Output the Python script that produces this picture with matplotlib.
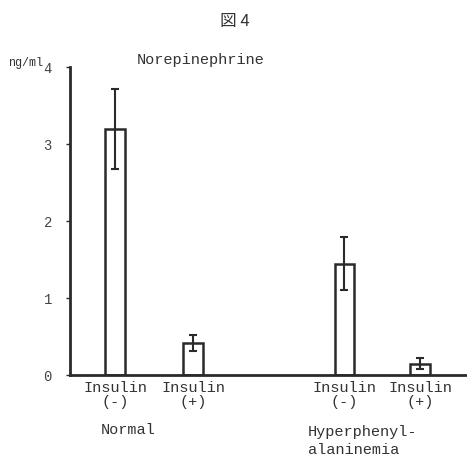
import matplotlib.pyplot as plt

labels = ["Insulin\n(-)", "Insulin\n(+)", "Insulin\n(-)", "Insulin\n(+)"]
means = [3.2, 0.42, 1.45, 0.15]
errs = [0.52, 0.1, 0.35, 0.07]
groups = ["Normal", "Hyperphenyl-\nalaninemia"]
yticks = [0, 1, 2, 3, 4]

xpos = [0, 1, 2.94, 3.91]
ink = '#2a2a2a'
mono = 'Liberation Mono'

fig = plt.figure(figsize=(4.67, 4.57), dpi=100)
ax = fig.add_axes([0.150, 0.179, 0.85, 0.674])

ax.bar(xpos, means, width=0.256, color='white', edgecolor=ink, linewidth=1.8)
ax.errorbar(xpos, means, yerr=errs, fmt='none', ecolor=ink, elinewidth=1.5,
            capsize=3, capthick=1.5)

ax.set_xlim(-0.577, 4.51)
ax.set_ylim(0, 4)
ax.set_yticks(yticks)
ax.set_yticklabels([str(t) for t in yticks], family=mono, fontsize=10, color='#444444')
ax.set_xticks(xpos)
ax.set_xticklabels(labels, family=mono, fontsize=11, color='#333333', linespacing=1.0)
ax.tick_params(axis='x', length=0, pad=4)
ax.tick_params(axis='y', length=3, width=1, color=ink, pad=10)

for side in ['top', 'right']:
    ax.spines[side].set_visible(False)
for side in ['left', 'bottom']:
    ax.spines[side].set_color(ink)
    ax.spines[side].set_linewidth(2)

fig.text(0.503, 0.952, "図 4", family=['Noto Sans CJK JP', 'DejaVu Sans'],
         fontsize=12, ha='center', va='center', color='#333333')
fig.text(0.293, 0.868, "Norepinephrine", family=mono, fontsize=11,
         ha='left', va='center', color='#333333')
fig.text(0.018, 0.862, "ng/ml", family=mono, fontsize=8.5,
         ha='left', va='center', color='#333333')
fig.text(0.275, 0.059, groups[0], family=mono, fontsize=11,
         ha='center', va='center', color='#333333')
fig.text(0.66, 0.035, groups[1], family=mono, fontsize=11,
         ha='left', va='center', color='#333333', linespacing=1.4)

fig.savefig("out.png", dpi=100, facecolor='white')
